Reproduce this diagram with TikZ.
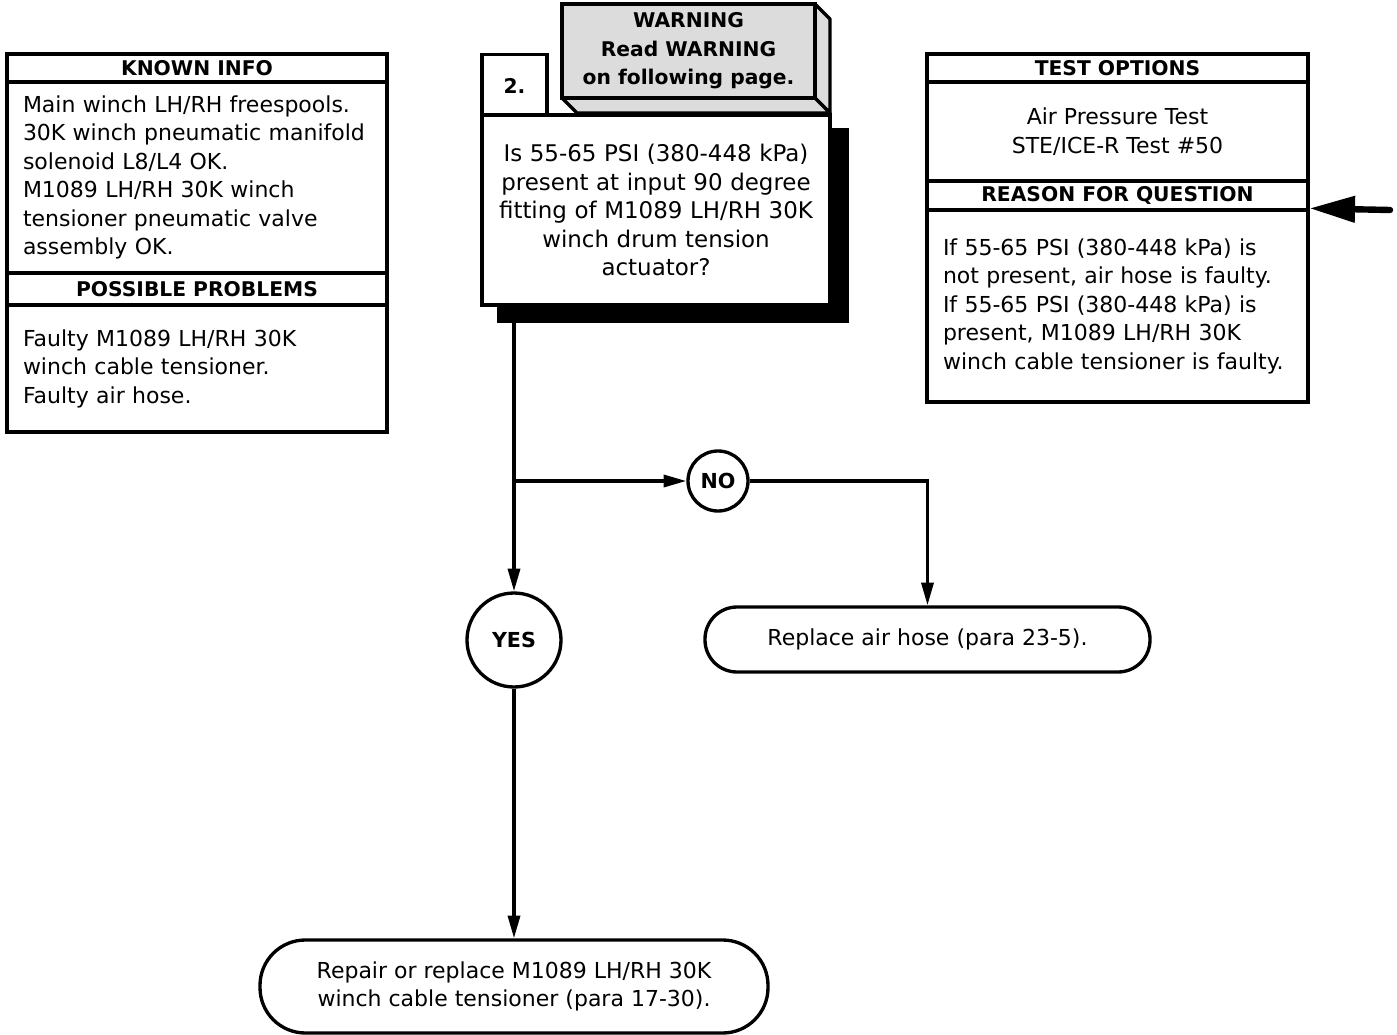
\documentclass[tikz,border=0pt]{standalone}
\usepackage{fontspec}
\setmainfont{DejaVu Sans}
\usetikzlibrary{arrows.meta}
\definecolor{wgray}{HTML}{DCDCDC}
\begin{document}
\begin{tikzpicture}[x=0.75pt,y=-0.75pt,
  box/.style={draw, line width=2.5pt, rectangle, inner sep=0pt, fill=white},
  txt/.style={font=\fontsize{16.5}{21.4}\selectfont},
  qtxt/.style={font=\fontsize{17.2}{21.4}\selectfont},
  hdr/.style={font=\fontsize{15.2}{21.4}\selectfont\bfseries},
  circ/.style={draw, circle, line width=2.5pt, inner sep=0pt, fill=white, font=\fontsize{15.5}{18}\selectfont\bfseries},
  term/.style={draw, rectangle, line width=2.5pt, inner sep=0pt, fill=white, font=\fontsize{16.5}{21.4}\selectfont, align=center},
  conn/.style={line width=2.5pt, -{Triangle[length=17pt,width=9pt]}}]
\useasboundingbox (0,0) rectangle (1397,1035);

% KNOWN INFO panel
\node[box, hdr, minimum width=285pt, minimum height=21pt] (kh) at (197,68) {KNOWN INFO};
\node[box, txt, minimum width=285pt, minimum height=143.25pt, text width=261pt, align=left] (kb) at (197,177.5)
  {Main winch LH/RH freespools.\\30K winch pneumatic manifold\\solenoid L8/L4 OK.\\M1089 LH/RH 30K winch\\tensioner pneumatic valve\\assembly OK.};
\node[box, hdr, minimum width=285pt, minimum height=24pt] (ph) at (197,289) {POSSIBLE PROBLEMS};
\node[box, txt, minimum width=285pt, minimum height=95.25pt, text width=261pt, align=left] (pb) at (197,368.5)
  {Faulty M1089 LH/RH 30K\\winch cable tensioner.\\Faulty air hose.};

% TEST OPTIONS panel
\node[box, hdr, minimum width=285.75pt, minimum height=21pt] (th) at (1117.5,68) {TEST OPTIONS};
\node[box, txt, minimum width=285.75pt, minimum height=74.25pt, align=center] (tb) at (1117.5,131.5)
  {Air Pressure Test\\STE/ICE-R Test \#50};
\node[box, hdr, minimum width=285.75pt, minimum height=21.75pt] (rh) at (1117.5,195.5) {REASON FOR QUESTION};
\node[box, txt, minimum width=285.75pt, minimum height=144pt, text width=261.75pt, align=left] (rb) at (1117.5,306)
  {If 55-65 PSI (380-448 kPa) is\\not present, air hose is faulty.\\If 55-65 PSI (380-448 kPa) is\\present, M1089 LH/RH 30K\\winch cable tensioner is faulty.};

% incoming arrow
\coordinate (rin) at (1390,210);
\draw[line width=4.8pt, line cap=round, -{Triangle[length=34pt,width=19pt]}] (rin) -- (rb.north east);

% connectors (drawn under the question shadow)
\coordinate (qbot) at (514,323);
\coordinate (br) at (514,481);
\node[circ, minimum size=70.5pt] (yes) at (514,640) {YES};
\node[circ, minimum size=45pt] (no) at (718,481) {NO};
\node[term, rounded corners=24pt, minimum width=333.75pt, minimum height=48.75pt] (rep) at (927.5,639.5) {Replace air hose (para 23-5).};
\node[term, rounded corners=34pt, minimum width=381pt, minimum height=69.75pt] (fin) at (514,986.5) {Repair or replace M1089 LH/RH 30K\\winch cable tensioner (para 17-30).};
\draw[conn] (qbot) -- (yes.north);
\draw[conn] (br) -- (no.west);
\draw[conn] (no.east) -| (rep.north);
\draw[conn] (yes.south) -- (fin.north);

% WARNING 3D box
\draw[line width=2.5pt, fill=wgray, line join=round] (815,4) -- (830,19) -- (830,113) -- (815,98) -- cycle;
\draw[line width=2.5pt, fill=wgray, line join=round] (562,98) -- (815,98) -- (830,113) -- (577,113) -- cycle;
\node[box, fill=wgray, hdr, minimum width=189.75pt, minimum height=70.5pt, align=center] (warn) at (688.5,51)
  {WARNING\\Read WARNING\\on following page.};

% Question box
\fill[black] (497,128) rectangle (849,323);
\node[box, hdr, minimum width=48.75pt, minimum height=47.25pt] (num) at (514.5,86) {2.};
\node[box, qtxt, minimum width=261pt, minimum height=142.5pt, text width=250pt, align=center] (q) at (656,210)
  {Is 55-65 PSI (380-448 kPa)\\present at input 90 degree\\fitting of M1089 LH/RH 30K\\winch drum tension\\actuator?};
\end{tikzpicture}
\end{document}
